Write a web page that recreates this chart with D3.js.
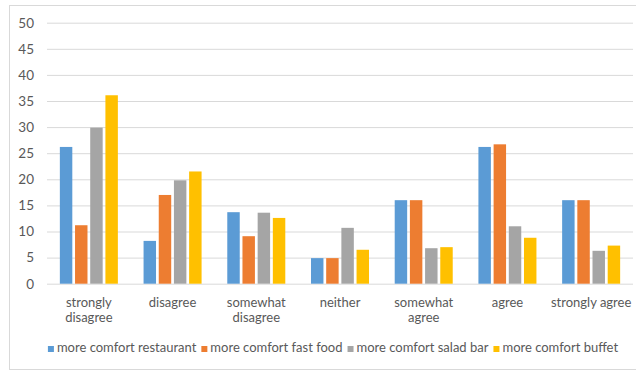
<!DOCTYPE html>
<html>
<head>
<meta charset="utf-8">
<script src="https://cdn.jsdelivr.net/npm/d3@7"></script>
<style>
  html, body { margin: 0; padding: 0; background: #fff; }
  svg { display: block; }
  text { font-family: Lato, "Open Sans", sans-serif; fill: #595959; }
</style>
</head>
<body>
<svg id="chart" width="636" height="371"></svg>
<script>
// Survey responses by agreement level
const categories = [
  ["strongly", "disagree"],
  ["disagree"],
  ["somewhat", "disagree"],
  ["neither"],
  ["somewhat", "agree"],
  ["agree"],
  ["strongly agree"]
];
const seriesNames = [
  "more comfort restaurant",
  "more comfort fast food",
  "more comfort salad bar",
  "more comfort buffet"
];
const restaurant = [26.2, 8.2, 13.7, 4.9, 16.0, 26.2, 16.0];
const fastFood   = [11.2, 17.0, 9.1, 4.9, 16.0, 26.7, 16.0];
const saladBar   = [29.9, 19.8, 13.6, 10.7, 6.8, 11.0, 6.3];
const buffet     = [36.1, 21.5, 12.6, 6.5, 7.0, 8.8, 7.3];
const yTicks = [0, 5, 10, 15, 20, 25, 30, 35, 40, 45, 50];
const colors = ["#5B9BD5", "#ED7D31", "#A5A5A5", "#FFC000"];

const seriesValues = [restaurant, fastFood, saladBar, buffet];

const svg = d3.select("#chart");

// chart area frame
svg.append("rect")
  .attr("x", 9.5).attr("y", 5.5)
  .attr("width", 700).attr("height", 364)
  .attr("fill", "#fff")
  .attr("stroke", "#d9d9d9").attr("stroke-width", 1);

const plot = { left: 47, right: 633, top: 22.7, bottom: 283.7 };

const y = d3.scaleLinear().domain([0, 50]).range([plot.bottom, plot.top]);
const x0 = d3.scaleBand()
  .domain(d3.range(categories.length))
  .range([plot.left, plot.right])
  .paddingInner(0.307)
  .paddingOuter(0.1535);
const x1 = d3.scaleBand()
  .domain(d3.range(seriesNames.length))
  .range([0, x0.bandwidth()])
  .paddingInner(0.18)
  .paddingOuter(0);

// gridlines and value labels
const yAxis = d3.axisLeft(y)
  .tickValues(yTicks)
  .tickSize(-(plot.right - plot.left))
  .tickPadding(13)
  .tickFormat(d3.format("d"));

const gy = svg.append("g")
  .attr("transform", `translate(${plot.left},0)`)
  .call(yAxis);
gy.select(".domain").remove();
gy.selectAll(".tick line").attr("stroke", "#d9d9d9").attr("stroke-width", 1);
gy.selectAll(".tick text")
  .attr("font-size", 13.5)
  .attr("fill", "#595959");

// bars
const groups = svg.append("g")
  .selectAll("g")
  .data(categories.map((c, i) => i))
  .join("g")
  .attr("transform", i => `translate(${x0(i)},0)`);

groups.selectAll("rect")
  .data(i => seriesValues.map((vals, s) => ({ s, v: vals[i] })))
  .join("rect")
  .attr("x", d => x1(d.s))
  .attr("width", x1.bandwidth())
  .attr("y", d => y(d.v))
  .attr("height", d => y(0) - y(d.v))
  .attr("fill", d => colors[d.s]);

// category labels
const catLabels = svg.append("g")
  .selectAll("text")
  .data(categories)
  .join("text")
  .attr("x", (c, i) => x0(i) + x0.bandwidth() / 2)
  .attr("y", 306.5)
  .attr("text-anchor", "middle")
  .attr("font-size", 13);
catLabels.selectAll("tspan")
  .data(c => c)
  .join("tspan")
  .attr("x", function () { return this.parentNode.getAttribute("x"); })
  .attr("dy", (d, j) => j === 0 ? 0 : 15.5)
  .text(d => d);

// legend
const legend = svg.append("g");
const legendFont = 13;
const items = legend.selectAll("g")
  .data(seriesNames)
  .join("g");
items.append("rect")
  .attr("width", 6).attr("height", 6)
  .attr("y", -6)
  .attr("fill", (d, i) => colors[i]);
items.append("text")
  .attr("x", 9)
  .attr("y", 0)
  .attr("font-size", legendFont)
  .text(d => d);

let cursor = 0;
items.each(function () {
  const w = d3.select(this).select("text").node().getComputedTextLength();
  d3.select(this).attr("data-x", cursor);
  cursor += 9 + w + 5;
});
const totalW = cursor - 5;
const legendStart = 333 - totalW / 2;
items.attr("transform", function () {
  return `translate(${legendStart + (+this.getAttribute("data-x"))},352)`;
});
</script>
</body>
</html>
